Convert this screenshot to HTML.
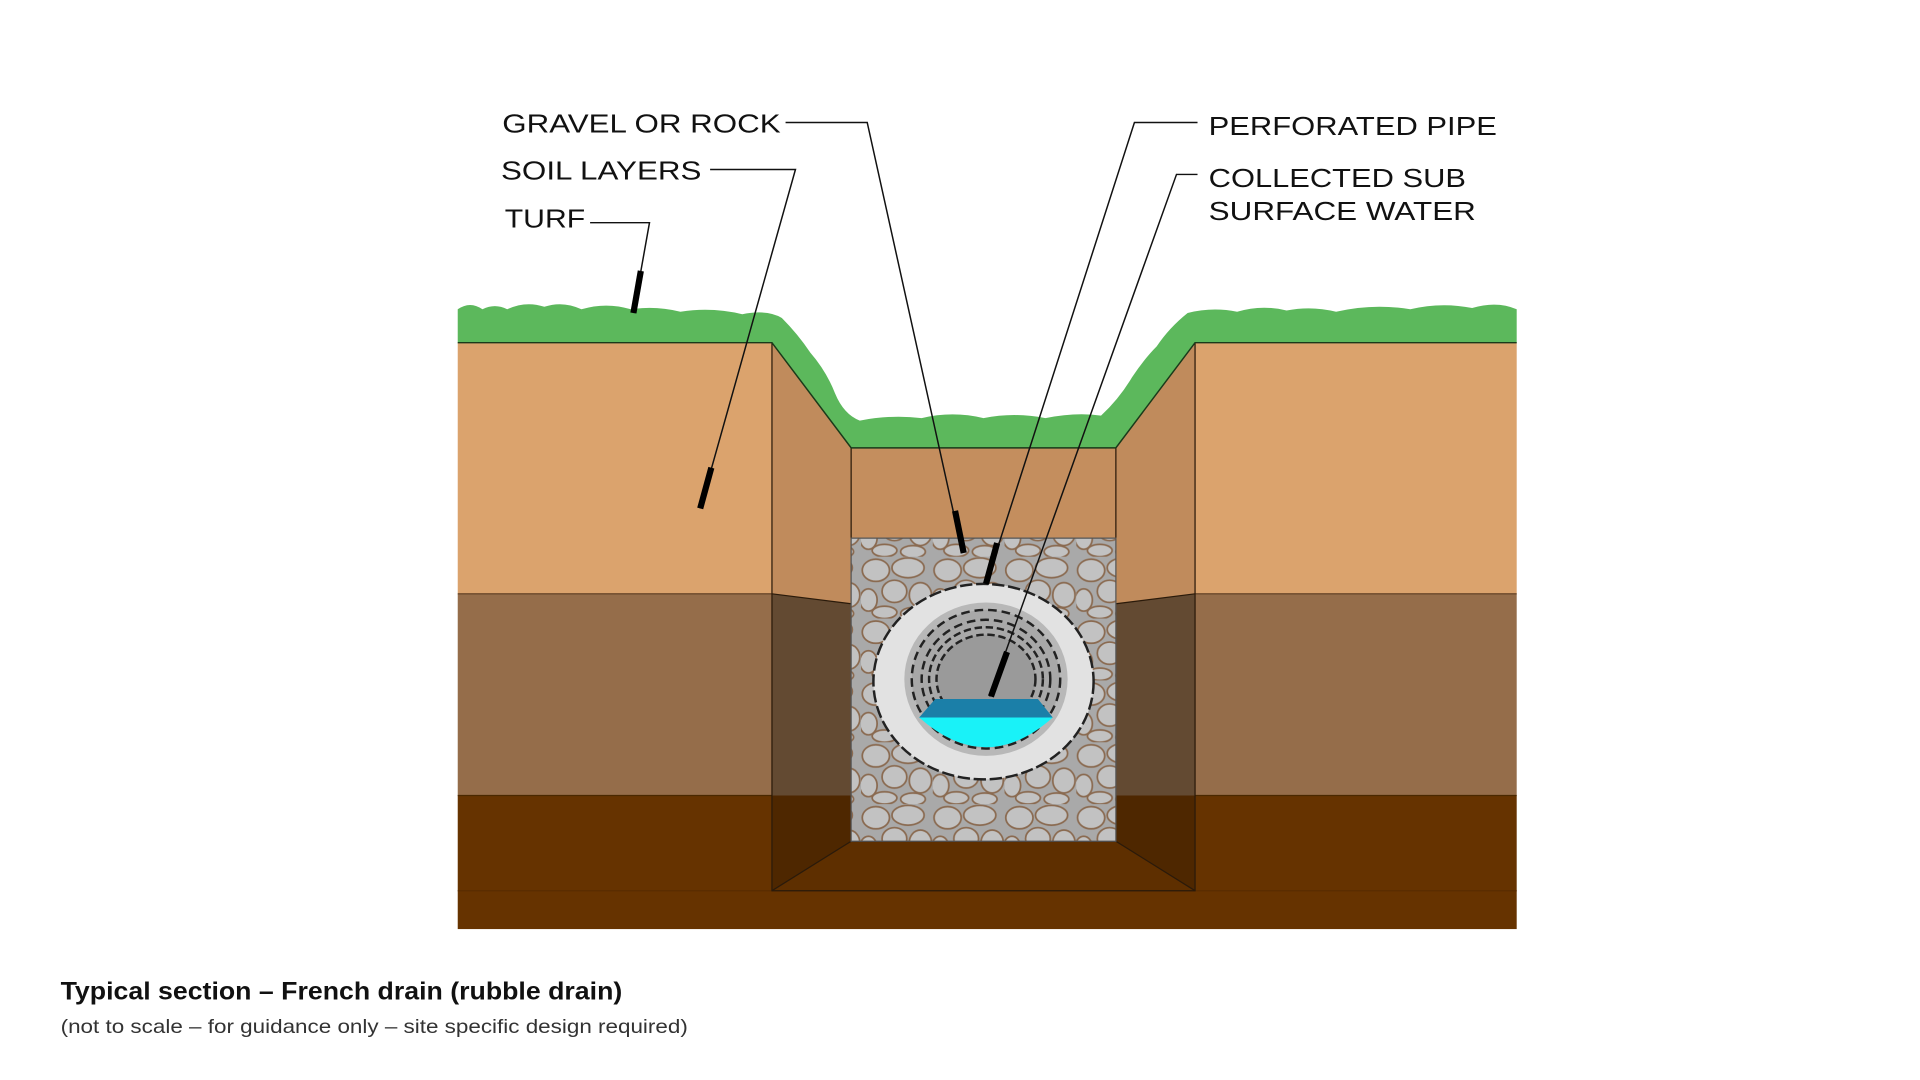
<!DOCTYPE html>
<html><head><meta charset="utf-8">
<style>
html,body{margin:0;padding:0;background:#fff;width:1920px;height:1080px;overflow:hidden}
svg{display:block}
</style></head>
<body>
<svg width="1920" height="1080" viewBox="0 0 1552 873" xmlns="http://www.w3.org/2000/svg">
<defs>
<pattern id="peb" width="58" height="50" patternUnits="userSpaceOnUse">
<rect width="58" height="50" fill="#a9a9a9"/>
<g fill="#c2c2c2" stroke="#8a6a50" stroke-width="1.4">
<ellipse cx="12" cy="11" rx="11" ry="9"/>
<ellipse cx="38" cy="9" rx="13" ry="8"/>
<ellipse cx="27" cy="28" rx="10" ry="9"/>
<ellipse cx="6" cy="35" rx="7" ry="9"/>
<ellipse cx="48" cy="31" rx="9" ry="10"/>
<ellipse cx="19" cy="45" rx="10" ry="5"/>
<ellipse cx="42" cy="46" rx="10" ry="5"/>
</g>
</pattern>
</defs>
<rect width="1552" height="873" fill="#fff"/>
<!-- layers -->
<rect x="370" y="277" width="254" height="203" fill="#dba36d"/>
<rect x="966" y="277" width="260" height="203" fill="#dba36d"/>
<rect x="370" y="480" width="856" height="163" fill="#956d4a"/>
<rect x="370" y="643" width="856" height="108" fill="#663300"/>
<line x1="370" y1="720" x2="1226" y2="720" stroke="#5a2d00" stroke-width="1"/>
<line x1="370" y1="480" x2="1226" y2="480" stroke="#5a3a20" stroke-width="1"/>
<line x1="370" y1="643" x2="1226" y2="643" stroke="#4a2800" stroke-width="1"/>
<!-- trench walls -->
<polygon points="624,277 688,362 688,488 624,480" fill="#c08b5c"/>
<polygon points="624,480 688,488 688,643 624,643" fill="#634a32"/>
<polygon points="624,643 688,643 688,680 624,720" fill="#4e2700"/>
<polygon points="966,277 902,362 902,488 966,480" fill="#c08b5c"/>
<polygon points="966,480 902,488 902,643 966,643" fill="#634a32"/>
<polygon points="966,643 902,643 902,680 966,720" fill="#4e2700"/>
<polygon points="624,720 966,720 902,680 688,680" fill="#5e2f00"/>
<rect x="688" y="362" width="214" height="73" fill="#c48e5e"/>
<g fill="none" stroke="#2a1a0a" stroke-width="1">
<polyline points="624,277 624,720 966,720 966,277"/>
<polyline points="688,362 688,680 902,680 902,362"/>
<line x1="624" y1="720" x2="688" y2="680"/><line x1="966" y1="720" x2="902" y2="680"/>
<line x1="624" y1="480" x2="688" y2="488"/><line x1="966" y1="480" x2="902" y2="488"/>
</g>
<!-- gravel -->
<rect x="688" y="435" width="214" height="245" fill="url(#peb)" stroke="#555" stroke-width="1"/>
<!-- pipe -->
<ellipse cx="795" cy="551" rx="89" ry="79" fill="#e2e2e2" stroke="#222" stroke-width="2" stroke-dasharray="10 3"/>
<ellipse cx="797" cy="549" rx="66" ry="62" fill="#b8b8b8"/>
<ellipse cx="797" cy="549" rx="60" ry="56" fill="#a8a8a8" stroke="#222" stroke-width="2" stroke-dasharray="7 4"/>
<ellipse cx="797" cy="549" rx="52" ry="48" fill="none" stroke="#222" stroke-width="2" stroke-dasharray="7 4"/>
<ellipse cx="797" cy="549" rx="46" ry="42" fill="none" stroke="#222" stroke-width="2" stroke-dasharray="6 3"/>
<ellipse cx="797" cy="549" rx="40" ry="36" fill="#9a9a9a" stroke="#222" stroke-width="2" stroke-dasharray="6 3"/>
<path d="M743,580 Q797,628 851,580 Z" fill="#19f2f8"/>
<polygon points="743,580 851,580 839,565 756,565" fill="#1b7fa8"/>
<!-- grass -->
<path d="M370,277 L370,250 Q380,243 390,250 Q400,245 410,250 Q425,243 440,248 Q455,243 470,250 Q490,244 510,250 Q530,247 550,252 Q575,248 600,254 Q620,250 632,257 Q645,270 655,285 Q668,300 675,318 Q682,335 695,340 Q720,335 745,338 Q770,332 795,338 Q820,333 845,338 Q870,333 890,336 Q905,322 915,305 Q925,290 935,280 Q945,265 960,253 Q980,248 1000,252 Q1020,246 1040,251 Q1060,247 1080,252 Q1110,245 1140,250 Q1165,244 1190,249 Q1210,243 1226,250 L1226,277 L966,277 L902,362 L688,362 L624,277 Z" fill="#5cb85c"/>
<g fill="none" stroke="#1a3a1a" stroke-width="1.2">
<polyline points="370,277 624,277 688,362 902,362 966,277 1226,277"/>
</g>
<!-- leaders -->
<g fill="none" stroke="#111" stroke-width="1.2">
<polyline points="635,99 701,99 778,447"/>
<polyline points="574,137 643,137 566,411"/>
<polyline points="477,180 525,180 512,253"/>
<polyline points="968,99 917,99 797,472"/>
<polyline points="968,141 951,141 800,563"/>
</g>
<g stroke="#000" stroke-width="5" stroke-linecap="butt">
<line x1="772" y1="413" x2="779" y2="447"/>
<line x1="575" y1="378" x2="566" y2="411"/>
<line x1="518" y1="219" x2="512" y2="253"/>
<line x1="806" y1="439" x2="797" y2="472"/>
<line x1="814" y1="527" x2="801" y2="563"/>
</g>
<g font-family="Liberation Sans, sans-serif" font-size="21" fill="#111" lengthAdjust="spacingAndGlyphs">
<text x="406" y="107" textLength="225" lengthAdjust="spacingAndGlyphs">GRAVEL OR ROCK</text>
<text x="405" y="145" textLength="162" lengthAdjust="spacingAndGlyphs">SOIL LAYERS</text>
<text x="408" y="184" textLength="65" lengthAdjust="spacingAndGlyphs">TURF</text>
<text x="977" y="109" textLength="233" lengthAdjust="spacingAndGlyphs">PERFORATED PIPE</text>
<text x="977" y="151" textLength="208" lengthAdjust="spacingAndGlyphs">COLLECTED SUB</text>
<text x="977" y="178" textLength="216" lengthAdjust="spacingAndGlyphs">SURFACE WATER</text>
</g>
<text x="49" y="808" font-family="Liberation Sans, sans-serif" font-size="20" font-weight="bold" fill="#111" textLength="454" lengthAdjust="spacingAndGlyphs">Typical section – French drain (rubble drain)</text>
<text x="49" y="835" font-family="Liberation Sans, sans-serif" font-size="16" fill="#333" textLength="507" lengthAdjust="spacingAndGlyphs">(not to scale – for guidance only – site specific design required)</text>
</svg>
</body></html>
